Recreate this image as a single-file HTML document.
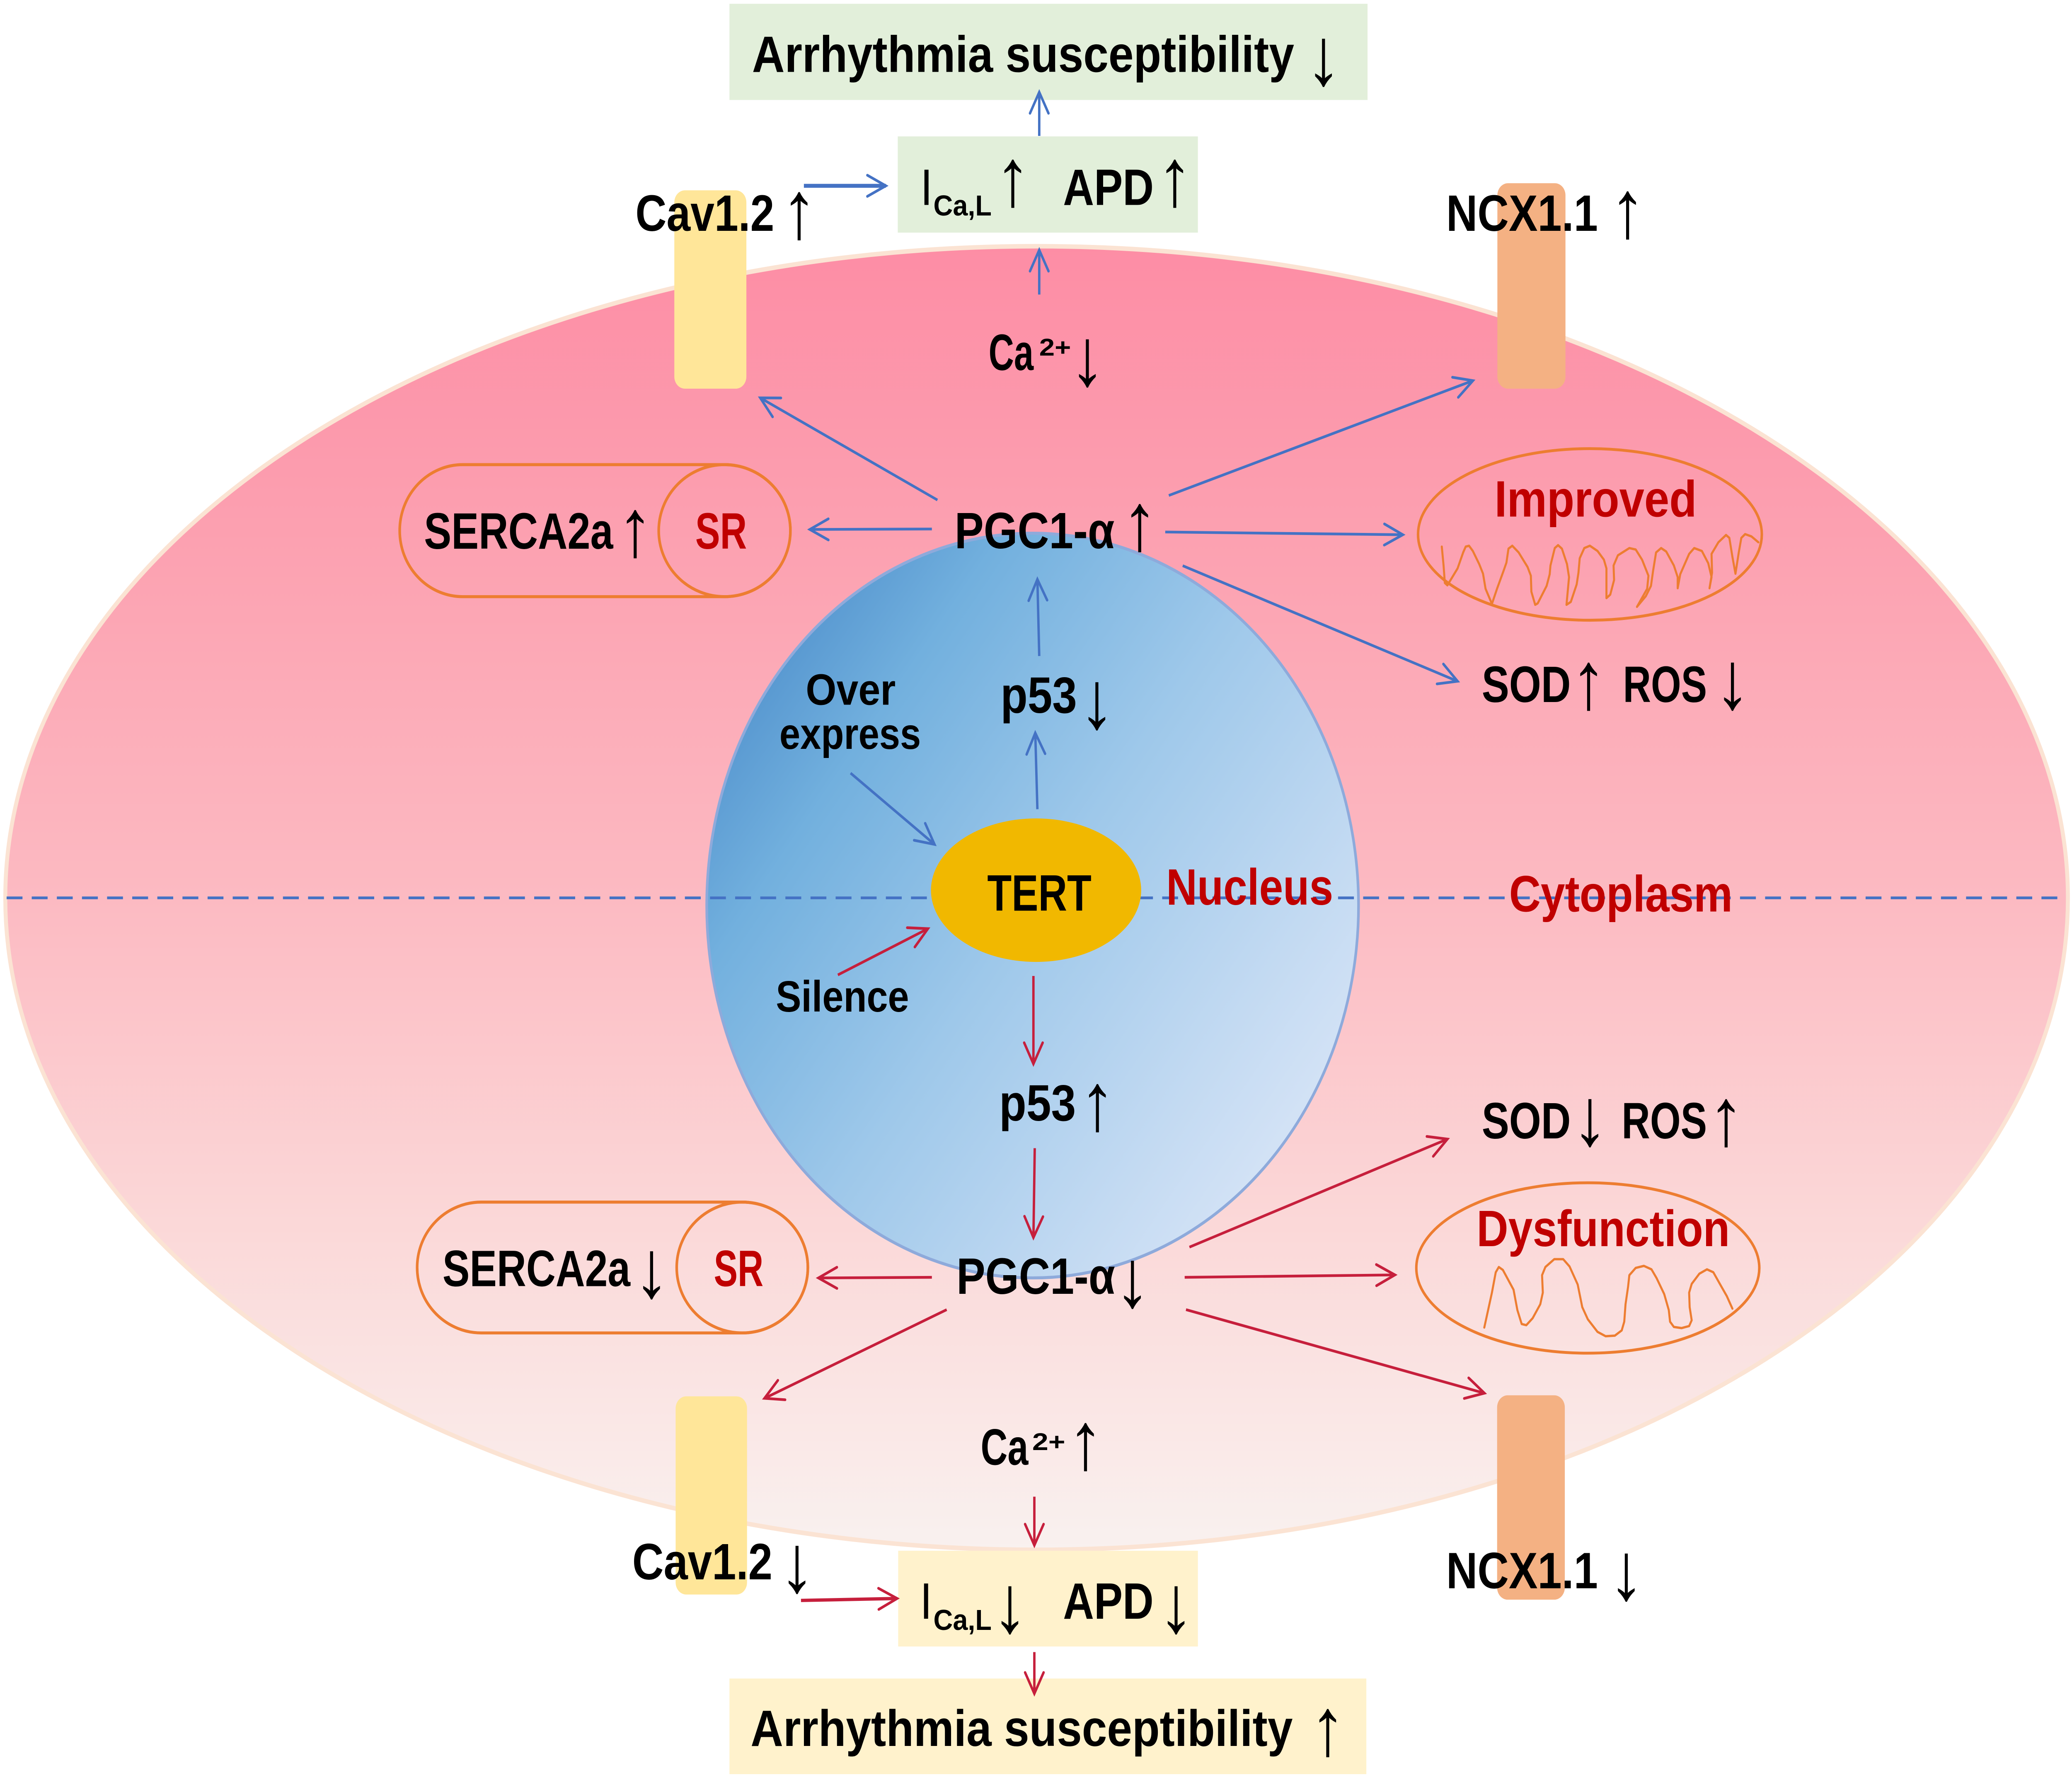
<!DOCTYPE html>
<html><head><meta charset="utf-8"><style>
html,body{margin:0;padding:0;background:#fff;width:100%;height:100%;overflow:hidden;}
svg{display:block;width:100vw;height:100vh;}
.t{font-family:"Liberation Sans",Arial,sans-serif;font-weight:bold;font-size:34px;fill:#000;}
.r{fill:#c00000;}
.s{font-size:29px;}
.ar{font-family:"Liberation Sans",Arial,sans-serif;font-weight:normal;font-size:54px;fill:#000;text-anchor:middle;}
</style></head><body>
<svg viewBox="0 0 1567.1 1179.7" preserveAspectRatio="none" xmlns="http://www.w3.org/2000/svg">
<defs>
<linearGradient id="cell" gradientUnits="userSpaceOnUse" x1="0" y1="163" x2="0" y2="1026">
<stop offset="0" stop-color="#fd8da5"/>
<stop offset="0.25" stop-color="#fca3b2"/>
<stop offset="0.5" stop-color="#fcbac2"/>
<stop offset="0.75" stop-color="#fbd8d8"/>
<stop offset="1" stop-color="#f9f1ef"/>
</linearGradient>
<linearGradient id="nuc" x1="0.05" y1="0.15" x2="0.95" y2="0.85">
<stop offset="0" stop-color="#4f90cc"/>
<stop offset="0.2" stop-color="#72b0de"/>
<stop offset="0.5" stop-color="#9ec8ea"/>
<stop offset="0.8" stop-color="#c3daf2"/>
<stop offset="1" stop-color="#dae6f7"/>
</linearGradient>
<marker id="mb" markerUnits="userSpaceOnUse" markerWidth="20" markerHeight="20" refX="15" refY="10" orient="auto" overflow="visible">
<path d="M1,3 L15,10 L1,17" fill="none" stroke="#4472c4" stroke-width="1.8" stroke-linecap="round"/>
</marker>
<marker id="mr" markerUnits="userSpaceOnUse" markerWidth="20" markerHeight="20" refX="15" refY="10" orient="auto" overflow="visible">
<path d="M1,3 L15,10 L1,17" fill="none" stroke="#c61f3c" stroke-width="1.8" stroke-linecap="round"/>
</marker>
</defs>

<ellipse cx="784" cy="594.5" rx="780" ry="431.5" fill="url(#cell)" stroke="#fbe3d3" stroke-width="3"/>

<circle cx="781" cy="599.5" r="246.5" fill="url(#nuc)" stroke="#8eaadb" stroke-width="2"/>

<line x1="5" y1="594.4" x2="1563" y2="594.4" stroke="#4472c4" stroke-width="1.8" stroke-dasharray="12 7"/>

<ellipse cx="783.6" cy="589.3" rx="79.5" ry="47.5" fill="#f1b800"/>

<rect x="551.7" y="2.5" width="482.6" height="63.7" fill="#e2efda"/>
<rect x="679" y="90.3" width="227" height="63.7" fill="#e2efda"/>
<rect x="679.3" y="1026.6" width="226.7" height="63.4" fill="#fff2cc"/>
<rect x="551.7" y="1111.2" width="481.7" height="63.3" fill="#fff2cc"/>

<rect x="510" y="126" width="54.5" height="131.3" rx="8" fill="#ffe699"/>
<rect x="511" y="924.4" width="54" height="131.2" rx="8" fill="#ffe699"/>
<rect x="1132.5" y="121.3" width="51.5" height="136" rx="8" fill="#f4b183"/>
<rect x="1132.3" y="923.7" width="51.2" height="135.3" rx="8" fill="#f4b183"/>

<path d="M350,307.6 L548,307.6 A49.8,43.7 0 0 1 548,395 L350,395 A47.7,43.7 0 0 1 350,307.6 Z" fill="none" stroke="#ed7d31" stroke-width="2"/>
<ellipse cx="548" cy="351.3" rx="49.8" ry="43.7" fill="none" stroke="#ed7d31" stroke-width="2"/>
<path d="M364,795.8 L561.4,795.8 A49.6,43.3 0 0 1 561.4,882.4 L364,882.4 A48.5,43.3 0 0 1 364,795.8 Z" fill="none" stroke="#ed7d31" stroke-width="2"/>
<ellipse cx="561.4" cy="839.1" rx="49.6" ry="43.3" fill="none" stroke="#ed7d31" stroke-width="2"/>

<ellipse cx="1202.5" cy="353.8" rx="130" ry="56.8" fill="none" stroke="#ed7d31" stroke-width="1.9"/>
<g transform="translate(1056.2,274.3) scale(0.19247)">
<path d="M178,455 L185,520 L190,580 L200,588 L240,530 L262,475 L272,455 L285,452 L300,470 L325,515 L340,548 L350,600 L375,652 L395,600 L420,540 L432,510 L440,462 L455,452 L480,475 L515,525 L528,555 L530,610 L545,655 L555,650 L590,590 L602,550 L605,520 L622,460 L635,450 L650,462 L670,515 L678,560 L668,655 L685,645 L708,585 L715,545 L720,495 L738,460 L760,452 L790,470 L815,500 L825,530 L825,632 L840,620 L855,570 L853,520 L870,485 L915,460 L940,465 L965,500 L990,555 L985,600 L945,662 L980,625 L1000,590 L1008,540 L1020,475 L1040,460 L1060,472 L1090,520 L1105,560 L1105,598 L1115,550 L1150,480 L1170,460 L1200,470 L1225,512 L1238,560 L1230,598 L1240,545 L1238,480 L1265,440 L1295,415 L1308,425 L1320,490 L1332,548 L1345,475 L1355,425 L1370,412 L1395,420 L1422,440" fill="none" stroke="#ed7d31" stroke-width="8" stroke-linejoin="round" stroke-linecap="round"/>
</g>
<ellipse cx="1200.9" cy="839.4" rx="129.7" ry="56.4" fill="none" stroke="#ed7d31" stroke-width="1.9"/>
<g transform="translate(1056.2,713.3) scale(0.19247)">
<path d="M345,860 L375,740 L390,670 L402,652 L418,662 L460,730 L475,800 L492,848 L510,852 L535,828 L565,780 L575,740 L572,680 L585,652 L620,625 L655,625 L680,650 L712,712 L730,790 L752,832 L790,875 L822,890 L858,888 L885,870 L895,840 L900,780 L910,720 L915,680 L940,655 L972,648 L1002,660 L1022,690 L1052,745 L1070,800 L1075,840 L1090,858 L1120,862 L1150,855 L1160,835 L1152,790 L1150,740 L1160,710 L1190,675 L1220,660 L1245,670 L1272,712 L1298,752 L1320,795" fill="none" stroke="#ed7d31" stroke-width="8" stroke-linejoin="round" stroke-linecap="round"/>
</g>

<g stroke="#4472c4" stroke-width="1.8" fill="none" marker-end="url(#mb)">
<line x1="786" y1="90" x2="786" y2="61"/>
<line x1="608" y1="123" x2="670" y2="123" stroke-width="2.6"/>
<line x1="786" y1="195" x2="786" y2="165.5"/>
<line x1="709" y1="331" x2="575" y2="263.4"/>
<line x1="704.8" y1="350.2" x2="612.5" y2="350.5"/>
<line x1="884" y1="328" x2="1114" y2="252"/>
<line x1="881.3" y1="352.2" x2="1061" y2="354"/>
<line x1="894.5" y1="374.5" x2="1102.4" y2="451"/>
<line x1="786" y1="434.3" x2="784.6" y2="383.5"/>
<line x1="784.6" y1="535.7" x2="783" y2="485.2"/>
<line x1="643.3" y1="511.8" x2="706.8" y2="559"/>
</g>

<g stroke="#c61f3c" stroke-width="1.8" fill="none" marker-end="url(#mr)">
<line x1="633.7" y1="645.4" x2="701.8" y2="614.8"/>
<line x1="781.6" y1="646.1" x2="781.6" y2="704.3"/>
<line x1="782.6" y1="760.1" x2="781.6" y2="819.3"/>
<line x1="704.8" y1="845.6" x2="619" y2="846"/>
<line x1="716" y1="867" x2="578.2" y2="925.7"/>
<line x1="899.6" y1="825.6" x2="1094.7" y2="754.1"/>
<line x1="896" y1="845.6" x2="1055" y2="844"/>
<line x1="897" y1="867" x2="1122.7" y2="922.3"/>
<line x1="782.3" y1="990.8" x2="782.3" y2="1023"/>
<line x1="605.8" y1="1059.5" x2="678.5" y2="1058.2" stroke-width="2.2"/>
<line x1="782.3" y1="1093.7" x2="782.3" y2="1121.2"/>
</g>

<text class="t" x="568.8" y="47.6" textLength="410" lengthAdjust="spacingAndGlyphs">Arrhythmia susceptibility</text>
<text class="ar" x="1001" y="56">↓</text>

<text class="t" x="697.7" y="135.6" textLength="6" lengthAdjust="spacingAndGlyphs">I</text>
<text class="t" x="706" y="142.6" style="font-size:19px" textLength="44" lengthAdjust="spacingAndGlyphs">Ca,L</text>
<text class="ar" x="766" y="136">↑</text>
<text class="t" x="804" y="135.6" textLength="68.6" lengthAdjust="spacingAndGlyphs">APD</text>
<text class="ar" x="888.5" y="136">↑</text>

<text class="t" x="480.6" y="152.8" textLength="105" lengthAdjust="spacingAndGlyphs">Cav1.2</text>
<text class="ar" x="604.4" y="157.5">↑</text>
<text class="t" x="1093.8" y="152.8" textLength="114.7" lengthAdjust="spacingAndGlyphs">NCX1.1</text>
<text class="ar" x="1231" y="157">↑</text>

<text class="t" x="747.7" y="245" textLength="34" lengthAdjust="spacingAndGlyphs">Ca</text>
<text class="t" x="786" y="235.4" style="font-size:16px" textLength="24" lengthAdjust="spacingAndGlyphs">2+</text>
<text class="ar" x="822.4" y="255">↓</text>

<text class="t" x="722" y="363" textLength="121" lengthAdjust="spacingAndGlyphs">PGC1-α</text>
<text class="ar" x="862" y="364">↑</text>
<text class="t" x="320.7" y="363.3" textLength="143" lengthAdjust="spacingAndGlyphs">SERCA2a</text>
<text class="ar" x="480.4" y="368">↑</text>
<text class="t r" x="525.9" y="363.3" textLength="39" lengthAdjust="spacingAndGlyphs">SR</text>

<text class="t r" x="1130.3" y="342" textLength="153" lengthAdjust="spacingAndGlyphs">Improved</text>

<text class="t" x="1120.7" y="464.8" textLength="67.3" lengthAdjust="spacingAndGlyphs">SOD</text>
<text class="ar" x="1201.5" y="469">↑</text>
<text class="t" x="1227.5" y="464.8" textLength="63.5" lengthAdjust="spacingAndGlyphs">ROS</text>
<text class="ar" x="1310.3" y="469">↓</text>

<text class="t s" x="609.4" y="466.6" textLength="68" lengthAdjust="spacingAndGlyphs">Over</text>
<text class="t s" x="589.5" y="495.8" textLength="107" lengthAdjust="spacingAndGlyphs">express</text>

<text class="t" x="756.7" y="471.9" textLength="57.8" lengthAdjust="spacingAndGlyphs">p53</text>
<text class="ar" x="829.6" y="482">↓</text>

<text class="t" x="746.7" y="602.9" textLength="78.8" lengthAdjust="spacingAndGlyphs">TERT</text>
<text class="t r" x="882" y="598.9" textLength="126.3" lengthAdjust="spacingAndGlyphs">Nucleus</text>
<text class="t r" x="1141.4" y="603.4" textLength="169" lengthAdjust="spacingAndGlyphs">Cytoplasm</text>

<text class="t s" x="586.8" y="669.7" textLength="100.7" lengthAdjust="spacingAndGlyphs">Silence</text>

<text class="t" x="755.7" y="741.8" textLength="58" lengthAdjust="spacingAndGlyphs">p53</text>
<text class="ar" x="830" y="748">↑</text>

<text class="t" x="1120.7" y="753.7" textLength="67.3" lengthAdjust="spacingAndGlyphs">SOD</text>
<text class="ar" x="1202.5" y="758">↓</text>
<text class="t" x="1226.5" y="753.7" textLength="64.5" lengthAdjust="spacingAndGlyphs">ROS</text>
<text class="ar" x="1305.5" y="758">↑</text>

<text class="t r" x="1116.8" y="824.9" textLength="191.5" lengthAdjust="spacingAndGlyphs">Dysfunction</text>

<text class="t" x="723.4" y="856.5" textLength="120" lengthAdjust="spacingAndGlyphs">PGC1-α</text>
<text class="ar" x="856.5" y="865">↓</text>
<text class="t" x="334.7" y="851.4" textLength="142" lengthAdjust="spacingAndGlyphs">SERCA2a</text>
<text class="ar" x="492.8" y="858.7">↓</text>
<text class="t r" x="539.9" y="851.4" textLength="37.5" lengthAdjust="spacingAndGlyphs">SR</text>

<text class="t" x="741.7" y="969.7" textLength="36" lengthAdjust="spacingAndGlyphs">Ca</text>
<text class="t" x="780.7" y="960" style="font-size:16px" textLength="25" lengthAdjust="spacingAndGlyphs">2+</text>
<text class="ar" x="821" y="972.4">↑</text>

<text class="t" x="478.2" y="1045.6" textLength="106" lengthAdjust="spacingAndGlyphs">Cav1.2</text>
<text class="ar" x="602.8" y="1053.7">↓</text>
<text class="t" x="1093.8" y="1051.4" textLength="114.7" lengthAdjust="spacingAndGlyphs">NCX1.1</text>
<text class="ar" x="1230" y="1058.8">↓</text>

<text class="t" x="697.4" y="1071.6" textLength="6" lengthAdjust="spacingAndGlyphs">I</text>
<text class="t" x="706" y="1079" style="font-size:19px" textLength="44" lengthAdjust="spacingAndGlyphs">Ca,L</text>
<text class="ar" x="763.8" y="1080.5">↓</text>
<text class="t" x="804" y="1071.6" textLength="68.5" lengthAdjust="spacingAndGlyphs">APD</text>
<text class="ar" x="889.5" y="1080.5">↓</text>

<text class="t" x="567.7" y="1155.8" textLength="410" lengthAdjust="spacingAndGlyphs">Arrhythmia susceptibility</text>
<text class="ar" x="1004.2" y="1161.7">↑</text>
</svg>
</body></html>
